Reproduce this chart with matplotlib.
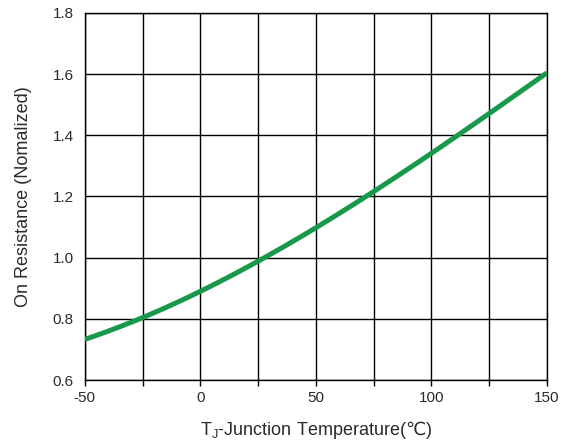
import numpy as np
import matplotlib
matplotlib.use("Agg")
import matplotlib.pyplot as plt
import matplotlib.ticker as ticker

plt.rcParams['font.family'] = ['Liberation Sans', 'DejaVu Sans']
plt.rcParams['mathtext.fontset'] = 'custom'
plt.rcParams['mathtext.rm'] = 'Liberation Sans'
plt.rcParams['mathtext.sf'] = 'DejaVu Sans'
plt.rcParams['axes.unicode_minus'] = False

# data
temps = [-50, -25, 0, 25, 50, 75, 100, 125, 150]
resist = [0.735, 0.80, 0.89, 0.99, 1.10, 1.215, 1.34, 1.47, 1.605]

x_ticks = [-50, 0, 50, 100, 150]
y_ticks = [0.6, 0.8, 1.0, 1.2, 1.4, 1.6, 1.8]

xs = np.linspace(-50, 150, 201)
coef = np.polyfit(temps, resist, 3)
ys = np.polyval(coef, xs)

fig = plt.figure(figsize=(5.65, 4.44), dpi=100)
ax = fig.add_axes([0.150, 0.144, 0.818, 0.827])

ax.plot(xs, ys, color='#17984a', linewidth=3.6, solid_capstyle='butt', zorder=3)

ax.set_xlim(-50, 150)
ax.set_ylim(0.6, 1.8)
ax.set_xticks(x_ticks)
ax.set_yticks(y_ticks)
ax.set_yticklabels(["%.1f" % v for v in y_ticks])
ax.xaxis.set_minor_locator(ticker.MultipleLocator(25))

ax.grid(True, which='major', color='black', linewidth=1.0)
ax.grid(True, which='minor', axis='x', color='black', linewidth=1.0)

for s in ax.spines.values():
    s.set_linewidth(1.0)

ax.tick_params(axis='x', which='both', direction='out', length=4, width=1.0,
               labelsize=11, labelcolor='#2a2a2a', pad=4)
ax.tick_params(axis='y', which='both', length=0, labelsize=11,
               labelcolor='#2a2a2a', pad=8)

ax.set_xlabel(r"T$_\mathregular{J}$-Junction Temperature($\mathsf{℃}$)", fontsize=13,
              color='#2a2a2a', labelpad=10)
ax.set_ylabel("On Resistance (Nomalized)", fontsize=13, color='#2a2a2a',
              labelpad=15)

fig.savefig("out.png", dpi=100)
